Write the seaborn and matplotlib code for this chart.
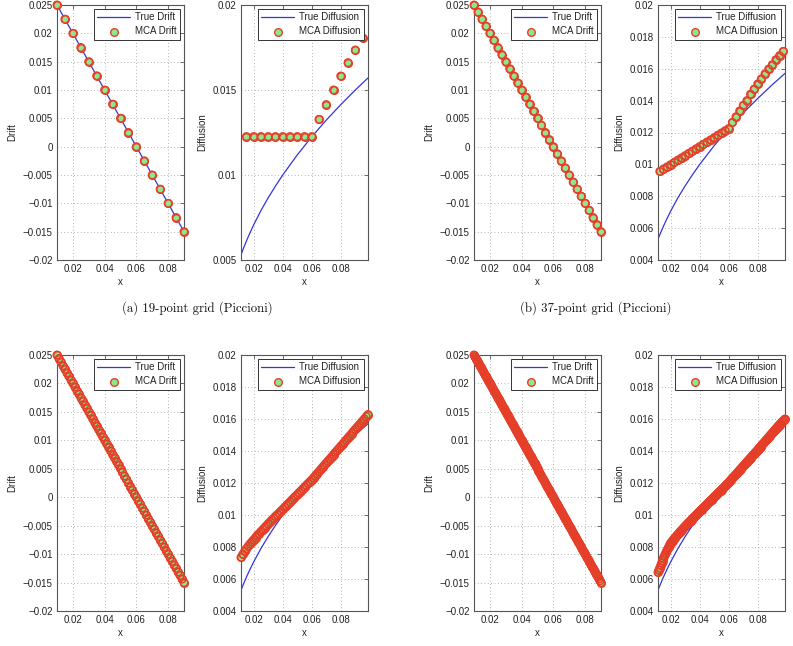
import numpy as np
import matplotlib
matplotlib.use('Agg')
import matplotlib.pyplot as plt
from matplotlib.ticker import FuncFormatter, MultipleLocator
import seaborn as sns

# ---------------- data ----------------
# true model curves
true_drift_x = [0.01, 0.09]
true_drift_y = [0.025, -0.015]

true_diff_x = [0.01125, 0.0125, 0.015, 0.0175, 0.02, 0.025, 0.03, 0.035, 0.04,
               0.05, 0.06, 0.07, 0.08, 0.09, 0.09875]
true_diff_y = [0.0053, 0.00559, 0.00612, 0.00661, 0.00707, 0.00791, 0.00866, 0.00935, 0.01,
               0.01118, 0.01225, 0.01323, 0.01414, 0.015, 0.01571]

# (a) 19-point grid: drift on x = 0.01..0.09, diffusion on x = 0.015..0.095
a_drift = [0.025, 0.0225, 0.02, 0.0175, 0.015, 0.0125, 0.01, 0.0075, 0.005, 0.0025,
           0.0, -0.0025, -0.005, -0.0075, -0.01, -0.0125, -0.015]
a_diff = [0.01226, 0.01226, 0.01226, 0.01226, 0.01226, 0.01226, 0.01226, 0.01226,
          0.01226, 0.01226, 0.01327, 0.01414, 0.0150, 0.01582, 0.01661, 0.01735, 0.01806]

# (b) 37-point grid: drift on x = 0.01..0.09, diffusion on x = 0.0125..0.0975
b_drift = [0.025, 0.02375, 0.0225, 0.02125, 0.02, 0.01875, 0.0175, 0.01625, 0.015,
           0.01375, 0.0125, 0.01125, 0.01, 0.00875, 0.0075, 0.00625, 0.005, 0.00375,
           0.0025, 0.00125, 0.0, -0.00125, -0.0025, -0.00375, -0.005, -0.00625,
           -0.0075, -0.00875, -0.01, -0.01125, -0.0125, -0.01375, -0.015]
b_diff = [0.00956, 0.0097, 0.00984, 0.00998, 0.01013, 0.01027, 0.01041, 0.01055,
          0.01069, 0.01083, 0.01098, 0.01112, 0.01126, 0.0114, 0.01154, 0.01168,
          0.01183, 0.01197, 0.01211, 0.01225,
          0.01263, 0.01299, 0.01335, 0.0137, 0.014, 0.0144, 0.01472, 0.01505,
          0.01537, 0.01568, 0.01598, 0.01625, 0.01657, 0.01682, 0.01709]

# (c) finer grid: drift on x = 0.01..0.09, diffusion on x = 0.01125..0.09875
c_drift = [0.025, 0.02438, 0.02375, 0.02313, 0.0225, 0.02188, 0.02125, 0.02063,
           0.02, 0.01938, 0.01875, 0.01813, 0.0175, 0.01688, 0.01625, 0.01563,
           0.015, 0.01438, 0.01375, 0.01313, 0.0125, 0.01188, 0.01125, 0.01063,
           0.01, 0.00938, 0.00875, 0.00813, 0.0075, 0.00688, 0.00625, 0.00563,
           0.005, 0.00438, 0.00375, 0.00313, 0.0025, 0.00188, 0.00125, 0.00063,
           0.0, -0.00063, -0.00125, -0.00188, -0.0025, -0.00313, -0.00375, -0.00438,
           -0.005, -0.00563, -0.00625, -0.00688, -0.0075, -0.00813, -0.00875, -0.00938,
           -0.01, -0.01063, -0.01125, -0.01188, -0.0125, -0.01313, -0.01375, -0.01438,
           -0.015]
c_diff = [0.00735, 0.00755, 0.00773, 0.0079, 0.00805, 0.0082, 0.00833, 0.00846,
          0.00859, 0.00872, 0.00884, 0.00897, 0.00909, 0.00921, 0.00933, 0.00945,
          0.00957, 0.00969, 0.0098, 0.00991, 0.01002, 0.01013, 0.01025, 0.01036,
          0.01048, 0.01059, 0.01071, 0.01082, 0.01094, 0.01105, 0.01117, 0.01128,
          0.0114, 0.01151, 0.01163, 0.01174, 0.01186, 0.01197, 0.01209, 0.0122,
          0.01233, 0.01246, 0.01259, 0.01272, 0.01286, 0.01299, 0.01312, 0.01325,
          0.01338, 0.01351, 0.01364, 0.01378, 0.01391, 0.01404, 0.01417, 0.0143,
          0.01443, 0.01456, 0.0147, 0.01483, 0.01496, 0.01509, 0.01522, 0.01536,
          0.01549, 0.01562, 0.01575, 0.01588, 0.01601, 0.01615, 0.01628]

# (d) finest grid: drift on x = 0.01..0.09, diffusion on x = 0.01125..0.09875
d_drift = [0.025, 0.02469, 0.02438, 0.02406, 0.02375, 0.02344, 0.02313, 0.02281,
           0.0225, 0.02219, 0.02188, 0.02156, 0.02125, 0.02094, 0.02063, 0.02031,
           0.02, 0.01969, 0.01938, 0.01906, 0.01875, 0.01844, 0.01813, 0.01781,
           0.0175, 0.01719, 0.01688, 0.01656, 0.01625, 0.01594, 0.01563, 0.01531,
           0.015, 0.01469, 0.01438, 0.01406, 0.01375, 0.01344, 0.01313, 0.01281,
           0.0125, 0.01219, 0.01188, 0.01156, 0.01125, 0.01094, 0.01063, 0.01031,
           0.01, 0.00969, 0.00938, 0.00906, 0.00875, 0.00844, 0.00813, 0.00781,
           0.0075, 0.00719, 0.00688, 0.00656, 0.00625, 0.00594, 0.00563, 0.00531,
           0.005, 0.00469, 0.00438, 0.00406, 0.00375, 0.00344, 0.00313, 0.00281,
           0.0025, 0.00219, 0.00188, 0.00156, 0.00125, 0.00094, 0.00063, 0.00031,
           0.0, -0.00031, -0.00063, -0.00094, -0.00125, -0.00156, -0.00188, -0.00219,
           -0.0025, -0.00281, -0.00313, -0.00344, -0.00375, -0.00406, -0.00438, -0.00469,
           -0.005, -0.00531, -0.00563, -0.00594, -0.00625, -0.00656, -0.00688, -0.00719,
           -0.0075, -0.00781, -0.00813, -0.00844, -0.00875, -0.00906, -0.00938, -0.00969,
           -0.01, -0.01031, -0.01063, -0.01094, -0.01125, -0.01156, -0.01188, -0.01219,
           -0.0125, -0.01281, -0.01313, -0.01344, -0.01375, -0.01406, -0.01438, -0.01469,
           -0.015]
d_diff = [0.00642, 0.00656, 0.0067, 0.00685, 0.007, 0.00715, 0.0073,
          0.00743, 0.00755, 0.00768, 0.0078, 0.00791, 0.00803, 0.00814, 0.00825,
          0.00832, 0.00839, 0.00846, 0.00853, 0.00859, 0.00866, 0.00873, 0.0088,
          0.00886, 0.00893, 0.00899, 0.00905, 0.00911, 0.00918, 0.00924, 0.0093,
          0.00936, 0.00942, 0.00948, 0.00954, 0.00959, 0.00965, 0.00971, 0.00977,
          0.00983, 0.00988, 0.00994, 0.01, 0.01006, 0.01011, 0.01017, 0.01023,
          0.01029, 0.01034, 0.0104, 0.01046, 0.01051, 0.01057, 0.01062, 0.01068,
          0.01074, 0.01079, 0.01085, 0.01091, 0.01096, 0.01102, 0.01107, 0.01113,
          0.01119, 0.01124, 0.0113, 0.01136, 0.01141, 0.01147, 0.01152, 0.01158,
          0.01164, 0.01169, 0.01175, 0.01181, 0.01187, 0.01192, 0.01198, 0.01204,
          0.0121, 0.01217, 0.01223, 0.0123, 0.01236, 0.01242, 0.01249, 0.01255,
          0.01261, 0.01268, 0.01274, 0.01281, 0.01287, 0.01293, 0.013, 0.01306,
          0.01312, 0.01319, 0.01325, 0.01332, 0.01338, 0.01344, 0.01351, 0.01357,
          0.01363, 0.0137, 0.01376, 0.01383, 0.01389, 0.01395, 0.01402, 0.01408,
          0.01415, 0.01421, 0.01428, 0.01434, 0.01441, 0.01447, 0.01454, 0.0146,
          0.01467, 0.01473, 0.0148, 0.01487, 0.01493, 0.015, 0.01506, 0.01513,
          0.0152, 0.01526, 0.01533, 0.01539, 0.01546, 0.01552, 0.01559, 0.01565,
          0.01571, 0.01577, 0.01583, 0.01588, 0.01594, 0.016]

# grid ranges (first/last node)
drift_range = (0.01, 0.09)
diff_ranges = {'a': (0.015, 0.095), 'b': (0.0125, 0.0975),
               'c': (0.01125, 0.09875), 'd': (0.01125, 0.09875)}
captions = {'a': '(a) 19-point grid (Piccioni)', 'b': '(b) 37-point grid (Piccioni)'}

# ---------------- style ----------------
sns.set_theme(style='white')
plt.rcParams['font.family'] = ['Liberation Sans', 'DejaVu Sans']

LINE_C = '#3434d8'
FACE_C = '#8ee68e'
EDGE_C = '#e63e28'
SPINE_C = '#555555'
TEXT_C = '#222222'
FS = 7
MS = 30


def tick_fmt(v, pos):
    v = round(v, 6) + 0.0
    return f'{v:g}'.replace('-', '\u2212')


def style_axes(ax, xlim, ylim, ystep, ylabel):
    ax.set_xlim(*xlim)
    ax.set_ylim(*ylim)
    ax.xaxis.set_major_locator(MultipleLocator(0.02))
    ax.yaxis.set_major_locator(MultipleLocator(ystep))
    ax.xaxis.set_major_formatter(FuncFormatter(tick_fmt))
    ax.yaxis.set_major_formatter(FuncFormatter(tick_fmt))
    ax.tick_params(direction='in', top=True, right=True, length=3, width=0.6,
                   color=SPINE_C, labelsize=FS, labelcolor=TEXT_C, pad=3)
    ax.grid(True, color='#9a9a9a', linestyle=(0, (1, 3)), linewidth=0.6)
    for s in ax.spines.values():
        s.set_color(SPINE_C)
        s.set_linewidth(0.8)
    ax.set_xlabel('x', fontsize=FS, color=TEXT_C, labelpad=2)
    ax.set_ylabel(ylabel, fontsize=FS, color=TEXT_C, labelpad=4)


def mca_points(ax, x, y, label):
    # filled markers first, then all red rims on top (as in the original)
    sns.scatterplot(x=x, y=y, ax=ax, s=MS, color=FACE_C, edgecolor=EDGE_C,
                    linewidth=1.0, label=label, zorder=3, clip_on=False)
    sns.scatterplot(x=x, y=y, ax=ax, s=MS, facecolor='none', edgecolor=EDGE_C,
                    linewidth=1.0, zorder=4, clip_on=False, legend=False)


def draw_pair(ax_drift, ax_diff, key, drift_vals, diff_vals):
    # drift panel
    x = np.linspace(drift_range[0], drift_range[1], len(drift_vals))
    sns.lineplot(x=true_drift_x, y=true_drift_y, ax=ax_drift, color=LINE_C,
                 linewidth=0.9, label='True Drift', estimator=None)
    mca_points(ax_drift, x, drift_vals, 'MCA Drift')
    style_axes(ax_drift, (0.01, 0.09), (-0.02, 0.025), 0.005, 'Drift')

    # diffusion panel
    xr = diff_ranges[key]
    x = np.linspace(xr[0], xr[1], len(diff_vals))
    sns.lineplot(x=true_diff_x, y=true_diff_y, ax=ax_diff, color=LINE_C,
                 linewidth=0.9, label='True Diffusion', estimator=None)
    mca_points(ax_diff, x, diff_vals, 'MCA Diffusion')
    if key == 'a':
        style_axes(ax_diff, (0.01125, 0.09875), (0.005, 0.02), 0.005, 'Diffusion')
    else:
        style_axes(ax_diff, (0.01125, 0.09875), (0.004, 0.02), 0.002, 'Diffusion')

    for ax in (ax_drift, ax_diff):
        leg = ax.legend(loc='upper right', fontsize=FS, frameon=True, fancybox=False,
                        edgecolor='#333333', framealpha=1, borderaxespad=0.4,
                        handlelength=3.4, handletextpad=0.5, borderpad=0.35,
                        labelspacing=0.4)
        leg.get_frame().set_linewidth(0.7)
        leg.set_zorder(5)
        for t in leg.get_texts():
            t.set_color(TEXT_C)


W, H = 793, 646
fig = plt.figure(figsize=(W / 100, H / 100), dpi=100)


def add_ax(left, top, width=127, height=256):
    return fig.add_axes([left / W, 1 - (top + height) / H, width / W, height / H])


top_row, bot_row = 5, 355
axes = {
    'a': (add_ax(57, top_row, height=255), add_ax(241, top_row, height=255)),
    'b': (add_ax(474, top_row, height=255), add_ax(658, top_row, height=255)),
    'c': (add_ax(57, bot_row), add_ax(241, bot_row)),
    'd': (add_ax(474, bot_row), add_ax(658, bot_row)),
}

draw_pair(*axes['a'], 'a', a_drift, a_diff)
draw_pair(*axes['b'], 'b', b_drift, b_diff)
draw_pair(*axes['c'], 'c', c_drift, c_diff)
draw_pair(*axes['d'], 'd', d_drift, d_diff)

fig.text(197 / W, 1 - 308 / H, captions['a'], ha='center', va='center',
         fontfamily='cmr10', fontsize=9.2, color='#111111')
fig.text(596 / W, 1 - 308 / H, captions['b'], ha='center', va='center',
         fontfamily='cmr10', fontsize=9.2, color='#111111')

fig.savefig('out.png', dpi=100)
